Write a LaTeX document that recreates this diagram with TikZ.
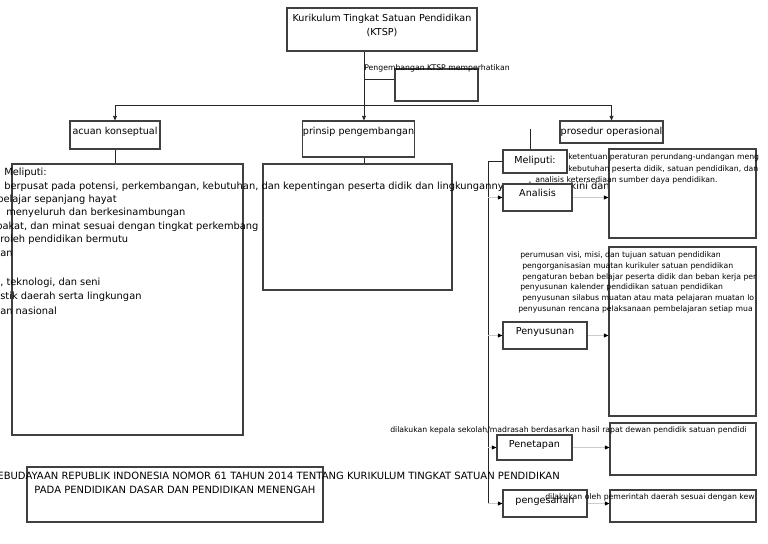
\documentclass[tikz,border=0pt]{standalone}
\usepackage{fontspec}
\setmainfont{DejaVu Sans}
\usetikzlibrary{arrows.meta}

\begin{document}
\begin{tikzpicture}
        [%%%%%%%%%%%%%%%%%%%%%%%%%%%%%%
        x=0.75pt,y=-0.75pt,
        box/.style={rectangle,draw=black!75,line width=0.8pt,inner sep=0pt,font=\fontsize{7.2}{9.8}\selectfont},
        wbox/.style={box,fill=white},
        txt/.style={anchor=west,inner sep=0pt,font=\fontsize{7.4}{9}\selectfont},
        caps/.style={inner sep=0pt,font=\fontsize{7.5}{9}\selectfont},
        note/.style={anchor=west,inner sep=0pt,font=\fontsize{5.8}{7}\selectfont},
        link/.style={draw=black!85,line width=0.7pt},
        arr/.style={link,-{Triangle[length=3.5pt,width=3pt]}},
        garr/.style={draw=black!20,line width=0.6pt,-{Triangle[length=3.5pt,width=3pt,color=black]}},
        ]%%%%%%%%%%%%%%%%%%%%%%%%%%%%%%

        \useasboundingbox (0,0) rectangle (768,543);

        % puncak
        \node[box,minimum width=142.5pt,minimum height=32.25pt,align=center,text depth=7pt] (ktsp) at (382,29.5) {Kurikulum Tingkat Satuan Pendidikan\\(KTSP)};
        \coordinate (stem) at (364,105);
        \coordinate (memojoin) at (364,79);
        \node[box,minimum width=62.25pt,minimum height=24pt] (memo) at (436.5,85) {};
        \node[note,anchor=center] (memolabel) at (437,68) {Pengembangan KTSP memperhatikan};

        \node[box,minimum width=67.5pt,minimum height=21pt,text depth=6pt] (acuan) at (115,135) {acuan konseptual};
        \node[box,minimum width=81.75pt,minimum height=27pt,text depth=12pt] (prinsip) at (358.5,139) {prinsip pengembangan};
        \node[box,minimum width=77.25pt,minimum height=16.5pt] (prosedur) at (611.5,132) {prosedur operasional};

        \draw[link] (ktsp.south -| stem) -- (stem);
        \draw[link] (acuan.north |- stem) -- (prosedur.north |- stem);
        \draw[arr] (stem) -- (prinsip.north -| stem);
        \draw[arr] (acuan.north |- stem) -- (acuan.north);
        \draw[arr] (prosedur.north |- stem) -- (prosedur.north);
        \draw[link] (memojoin) -- (memojoin -| memo.west);

        % kolom kiri dan tengah
        \node[box,minimum width=173.25pt,minimum height=203.25pt] (leftbox) at (127.5,299.5) {};
        \node[box,minimum width=141.75pt,minimum height=94.5pt] (midbox) at (357.5,227) {};
        \draw[link] (acuan.south) -- (acuan.south |- leftbox.north);
        \draw[link] (prinsip.south -| stem) -- (midbox.north -| stem);

        \foreach \x/\y/\t [count=\i] in {4/173/{Meliputi:},
          4/187/{berpusat pada potensi, perkembangan, kebutuhan, dan kepentingan peserta didik dan lingkungannya pada masa kini dan},
          -3/200/{belajar sepanjang hayat},
          6/213/{menyeluruh dan berkesinambungan},
          -4/227/{bakat, dan minat sesuai dengan tingkat perkembang},
          0/240/{roleh pendidikan bermutu},
          0/254/{an},
          0/283/{, teknologi, dan seni},
          0/297/{stik daerah serta lingkungan},
          0/311/{an nasional}}
          \node[txt] (acuanline\i) at (\x,\y) {\t};

        % prosedur operasional
        \node[wbox,minimum width=48pt,minimum height=17.25pt,text depth=2pt] (meliputi) at (535,161.5) {Meliputi:};
        \node[wbox,minimum width=51.75pt,minimum height=20.25pt,text depth=6.8pt] (analisis) at (537.5,197.5) {Analisis};
        \node[wbox,minimum width=63pt,minimum height=20.25pt,text depth=6.8pt] (penyusunan) at (545,335.5) {Penyusunan};
        \node[wbox,minimum width=56.25pt,minimum height=18.75pt,text depth=5.2pt] (penetapan) at (534.5,447.5) {Penetapan};
        \node[wbox,minimum width=63pt,minimum height=20.25pt,text depth=5.2pt] (pengesahan) at (545,503.5) {pengesahan};

        \node[wbox,minimum width=110.25pt,minimum height=66.75pt] (isianalisis) at (682.5,193.5) {};
        \node[wbox,minimum width=110.25pt,minimum height=126.75pt] (isisusun) at (682.5,331.5) {};
        \node[wbox,minimum width=109.5pt,minimum height=39pt] (isitetap) at (683,449) {};
        \node[wbox,minimum width=109.5pt,minimum height=24pt] (isisah) at (683,506) {};

        \coordinate (stub) at (530,129);
        \coordinate (spine) at (488,165);
        \draw[link] (stub) -- (stub |- meliputi.north);
        \draw[link] (meliputi.west) -- (meliputi.west -| spine) -- (spine |- pengesahan.west);
        \foreach \b/\r in {analisis/isianalisis,penyusunan/isisusun,penetapan/isitetap,pengesahan/isisah}{
          \draw[garr] (spine |- \b.west) -- (\b.west);
          \draw[garr] (\b.east) -- (\b.east -| \r.west);
        }

        \node[note] (ketentuan) at (568,157) {ketentuan peraturan perundang-undangan meng};
        \node[note] (kebutuhan) at (568,169) {kebutuhan peserta didik, satuan pendidikan, dan};
        \node[note] (ketersediaan) at (535,180) {analisis ketersediaan sumber daya pendidikan.};

        \foreach \x/\y/\t [count=\i] in {520/255/{perumusan visi, misi, dan tujuan satuan pendidikan},
          522/266/{pengorganisasian muatan kurikuler satuan pendidikan},
          522/277/{pengaturan beban belajar peserta didik dan beban kerja per},
          520/287/{penyusunan kalender pendidikan satuan pendidikan},
          522/298/{penyusunan silabus muatan atau mata pelajaran muatan lo},
          518/309/{penyusunan rencana pelaksanaan pembelajaran setiap mua}}
          \node[note] (susunline\i) at (\x,\y) {\t};

        \node[note] (tetapnote) at (390,430) {dilakukan kepala sekolah/madrasah berdasarkan hasil rapat dewan pendidik satuan pendidi};
        \node[note] (sahnote) at (545,497) {dilakukan oleh pemerintah daerah sesuai dengan kew};

        % peraturan menteri
        \node[box,minimum width=222pt,minimum height=41.25pt] (permen) at (175,494.5) {};
        \node[caps,anchor=east] (permenline1) at (560,476) {EBUDAYAAN REPUBLIK INDONESIA NOMOR 61 TAHUN 2014 TENTANG KURIKULUM TINGKAT SATUAN PENDIDIKAN};
        \node[caps,anchor=center] (permenline2) at (175,490) {PADA PENDIDIKAN DASAR DAN PENDIDIKAN MENENGAH};

      \end{tikzpicture}
\end{document}
